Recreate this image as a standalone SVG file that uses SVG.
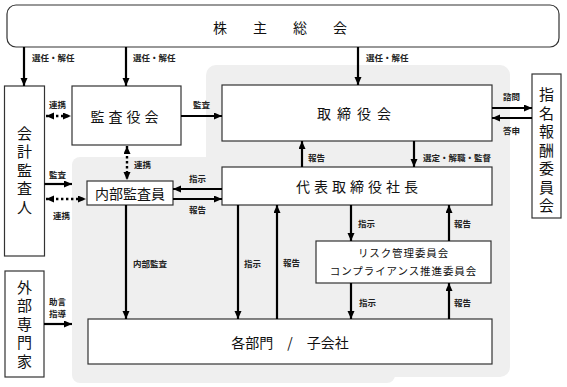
<svg xmlns="http://www.w3.org/2000/svg" width="567" height="387" viewBox="0 0 567 387">
<defs>
<marker id="ah" markerUnits="userSpaceOnUse" markerWidth="9" markerHeight="8" refX="8" refY="3.5" orient="auto-start-reverse">
<path d="M0,0 L8,3.5 L0,7 z" fill="#000"/>
</marker>
<style>
.box{fill:#fff;stroke:#333;stroke-width:1.2}
.bg{fill:#efefef}
.ln{stroke:#000;stroke-width:2.2;fill:none;marker-end:url(#ah)}
.dt{stroke:#000;stroke-width:2.4;fill:none;stroke-dasharray:2.4 2.6;marker-end:url(#ah);marker-start:url(#ah)}
.lb{font-family:"Noto Sans CJK JP","Noto Sans",sans-serif;font-size:8.5px;font-weight:700;fill:#222}
.nt{font-family:"Noto Sans CJK JP","Noto Sans",sans-serif;font-size:14px;fill:#111;text-anchor:middle;dominant-baseline:central}
.rt{font-family:"Noto Sans CJK JP","Noto Sans",sans-serif;font-size:10.5px;fill:#111;text-anchor:middle;letter-spacing:0.9px}
.vt{font-family:"Noto Sans CJK JP","Noto Sans",sans-serif;font-size:15px;fill:#111;text-anchor:middle;writing-mode:vertical-rl;letter-spacing:3.5px}
</style>
</defs>
<g id="background">
<rect class="bg" x="206" y="65" width="304" height="312" rx="10"/>
<rect class="bg" x="72" y="157" width="323" height="226" rx="8"/>
</g>
<g id="shareholders">
<rect class="box" x="7" y="5" width="552" height="42" rx="9"/>
<text class="nt" y="27"><tspan x="220">株</tspan><tspan x="260">主</tspan><tspan x="300">総</tspan><tspan x="340">会</tspan></text>
</g>
<g id="auditor">
<rect class="box" x="4.5" y="86" width="40" height="170"/>
<text class="vt" x="24.5" y="172">会計監査人</text>
</g>
<g id="kansayaku">
<rect class="box" x="72" y="86" width="109" height="59"/>
<text class="nt" x="126.5" y="116" font-size="15" letter-spacing="4">監査役会</text>
</g>
<g id="board">
<rect class="box" x="222" y="85" width="270" height="56"/>
<text class="nt" x="357" y="113" font-size="15" letter-spacing="6">取締役会</text>
</g>
<g id="nomination">
<rect class="box" x="532" y="74" width="29" height="144"/>
<text class="vt" x="546.5" y="152">指名報酬委員会</text>
</g>
<g id="president">
<rect class="box" x="222" y="167" width="270" height="38"/>
<text class="nt" x="359" y="186" font-size="15" letter-spacing="4">代表取締役社長</text>
</g>
<g id="internal">
<rect class="box" x="87" y="181" width="86" height="24"/>
<text class="nt" x="130" y="193" font-size="13.5">内部監査員</text>
</g>
<g id="risk">
<rect class="box" x="316" y="241" width="175" height="42"/>
<text class="rt" x="403.5" y="257">リスク管理委員会</text>
<text class="rt" x="403.5" y="275">コンプライアンス推進委員会</text>
</g>
<g id="departments">
<rect class="box" x="88" y="319" width="404" height="45"/>
<text class="nt" x="290" y="342" font-size="14">各部門　/　子会社</text>
</g>
<g id="experts">
<rect class="box" x="5" y="271" width="39" height="106"/>
<text class="vt" x="24.5" y="326">外部専門家</text>
</g>
<g id="connectors">
<line class="ln" x1="24" y1="47" x2="24" y2="86"/>
<line class="ln" x1="126" y1="47" x2="126" y2="86"/>
<line class="ln" x1="358" y1="47" x2="358" y2="85"/>
<line class="ln" x1="181" y1="116" x2="222" y2="116"/>
<line class="dt" x1="46" y1="116" x2="71" y2="116"/>
<line class="dt" x1="127" y1="146" x2="127" y2="180"/>
<line class="ln" x1="44.5" y1="184" x2="72" y2="184"/>
<line class="dt" x1="46" y1="199" x2="86" y2="199"/>
<line class="ln" x1="222" y1="189" x2="173" y2="189"/>
<line class="ln" x1="173" y1="199" x2="222" y2="199"/>
<line class="ln" x1="302" y1="167" x2="302" y2="141"/>
<line class="ln" x1="414" y1="141" x2="414" y2="167"/>
<line class="ln" x1="492" y1="108" x2="532" y2="108"/>
<line class="ln" x1="532" y1="118" x2="492" y2="118"/>
<line class="ln" x1="126" y1="205" x2="126" y2="319"/>
<line class="ln" x1="238" y1="205" x2="238" y2="319"/>
<line class="ln" x1="277" y1="319" x2="277" y2="205"/>
<line class="ln" x1="351" y1="205" x2="351" y2="241"/>
<line class="ln" x1="449" y1="241" x2="449" y2="205"/>
<line class="ln" x1="351" y1="283" x2="351" y2="319"/>
<line class="ln" x1="449" y1="319" x2="449" y2="283"/>
<line class="ln" x1="44" y1="324" x2="72" y2="324"/>
</g>
<g id="labels">
<text class="lb" x="32" y="61">選任・解任</text>
<text class="lb" x="133" y="61">選任・解任</text>
<text class="lb" x="366" y="61">選任・解任</text>
<text class="lb" x="49" y="108">連携</text>
<text class="lb" x="193" y="108">監査</text>
<text class="lb" x="134" y="168">連携</text>
<text class="lb" x="49" y="178">監査</text>
<text class="lb" x="53" y="219">連携</text>
<text class="lb" x="189" y="182">指示</text>
<text class="lb" x="189" y="213">報告</text>
<text class="lb" x="308" y="161">報告</text>
<text class="lb" x="423" y="161">選定・解職・監督</text>
<text class="lb" x="503" y="100">諮問</text>
<text class="lb" x="503" y="134">答申</text>
<text class="lb" x="133" y="267">内部監査</text>
<text class="lb" x="244" y="267">指示</text>
<text class="lb" x="283" y="266">報告</text>
<text class="lb" x="358" y="227">指示</text>
<text class="lb" x="454" y="227">報告</text>
<text class="lb" x="359" y="306">指示</text>
<text class="lb" x="454" y="306">報告</text>
<text class="lb" x="49" y="305">助言</text>
<text class="lb" x="49" y="317">指導</text>
</g>
</svg>
